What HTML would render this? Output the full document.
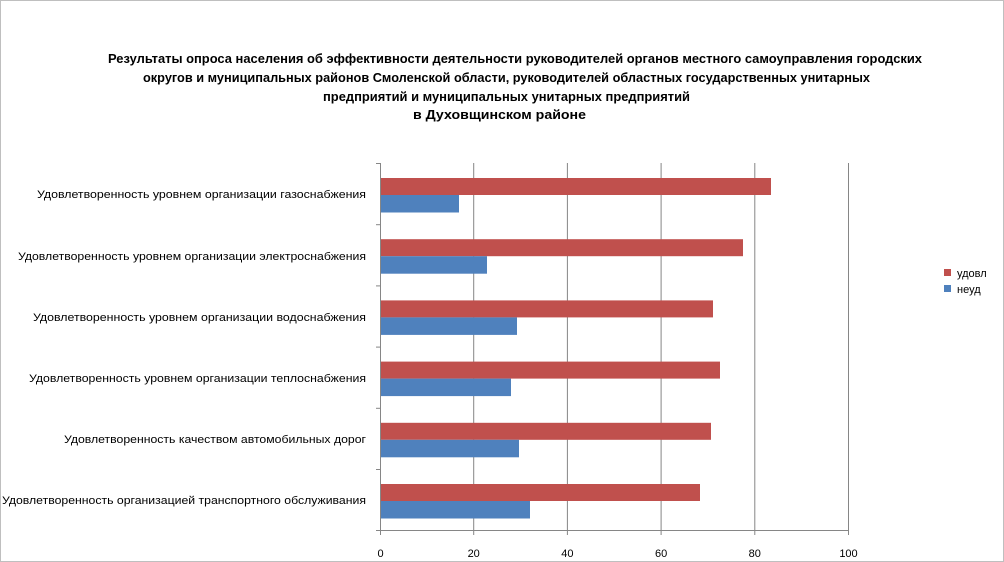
<!DOCTYPE html>
<html><head><meta charset="utf-8"><style>html,body{margin:0;padding:0;background:#fff}svg{display:block}</style></head>
<body>
<svg width="1004" height="562" xmlns="http://www.w3.org/2000/svg" font-family="Liberation Sans, sans-serif">
<rect x="0.5" y="0.5" width="1003" height="561" fill="#fff" stroke="#bfbfbf"/>
<g font-weight="bold" font-size="12.5" fill="#000">
<text x="108" y="63" textLength="814" lengthAdjust="spacingAndGlyphs">Результаты опроса населения об эффективности деятельности руководителей органов местного самоуправления городских</text>
<text x="143" y="82" textLength="727" lengthAdjust="spacingAndGlyphs">округов и муниципальных районов Смоленской области, руководителей областных государственных унитарных</text>
<text x="323" y="101" textLength="367" lengthAdjust="spacingAndGlyphs">предприятий и муниципальных унитарных предприятий</text>
<text x="413" y="119" textLength="173" lengthAdjust="spacingAndGlyphs">в Духовщинском районе</text>
</g>
<g stroke="#868686" stroke-width="1">
<line x1="473.7" y1="163" x2="473.7" y2="531"/>
<line x1="567.4" y1="163" x2="567.4" y2="531"/>
<line x1="661.1" y1="163" x2="661.1" y2="531"/>
<line x1="754.8" y1="163" x2="754.8" y2="531"/>
<line x1="848.5" y1="163" x2="848.5" y2="531"/>
</g>
<g fill="#c0504d">
<rect x="381" y="178" width="390" height="17"/>
<rect x="381" y="239.2" width="362" height="17"/>
<rect x="381" y="300.4" width="332" height="17"/>
<rect x="381" y="361.6" width="339" height="17"/>
<rect x="381" y="422.8" width="330" height="17"/>
<rect x="381" y="484" width="319" height="17"/>
</g>
<g fill="#4f81bd">
<rect x="381" y="195" width="78" height="17.5"/>
<rect x="381" y="256.2" width="106" height="17.5"/>
<rect x="381" y="317.4" width="136" height="17.5"/>
<rect x="381" y="378.6" width="130" height="17.5"/>
<rect x="381" y="439.8" width="138" height="17.5"/>
<rect x="381" y="501" width="149" height="17.5"/>
</g>
<g stroke="#868686" stroke-width="1">
<line x1="380.5" y1="163" x2="380.5" y2="531"/>
<line x1="380" y1="530.5" x2="849" y2="530.5"/>
<line x1="376" y1="163.5" x2="380" y2="163.5"/>
<line x1="376" y1="224.7" x2="380" y2="224.7"/>
<line x1="376" y1="285.9" x2="380" y2="285.9"/>
<line x1="376" y1="347.1" x2="380" y2="347.1"/>
<line x1="376" y1="408.3" x2="380" y2="408.3"/>
<line x1="376" y1="469.5" x2="380" y2="469.5"/>
<line x1="376" y1="530.5" x2="380" y2="530.5"/>
<line x1="380.5" y1="531" x2="380.5" y2="535"/>
<line x1="473.7" y1="531" x2="473.7" y2="535"/>
<line x1="567.4" y1="531" x2="567.4" y2="535"/>
<line x1="661.1" y1="531" x2="661.1" y2="535"/>
<line x1="754.8" y1="531" x2="754.8" y2="535"/>
<line x1="848.5" y1="531" x2="848.5" y2="535"/>
</g>
<g font-size="11" fill="#000" text-anchor="middle">
<text x="380.5" y="557">0</text>
<text x="473.7" y="557">20</text>
<text x="567.4" y="557">40</text>
<text x="661.1" y="557">60</text>
<text x="754.8" y="557">80</text>
<text x="848.5" y="557">100</text>
</g>
<g font-size="11" fill="#000">
<text x="37" y="198" textLength="329" lengthAdjust="spacingAndGlyphs">Удовлетворенность уровнем организации газоснабжения</text>
<text x="18" y="260" textLength="348" lengthAdjust="spacingAndGlyphs">Удовлетворенность уровнем организации электроснабжения</text>
<text x="33" y="321" textLength="333" lengthAdjust="spacingAndGlyphs">Удовлетворенность уровнем организации водоснабжения</text>
<text x="29" y="382" textLength="337" lengthAdjust="spacingAndGlyphs">Удовлетворенность уровнем организации теплоснабжения</text>
<text x="64" y="443" textLength="302" lengthAdjust="spacingAndGlyphs">Удовлетворенность качеством автомобильных дорог</text>
<text x="2" y="504" textLength="364" lengthAdjust="spacingAndGlyphs">Удовлетворенность организацией транспортного обслуживания</text>
</g>
<rect x="944" y="269" width="7" height="7" fill="#c0504d"/>
<rect x="944" y="285" width="7" height="7" fill="#4f81bd"/>
<g font-size="11" fill="#000">
<text x="957" y="277">удовл</text>
<text x="957" y="293">неуд</text>
</g>
</svg>
</body></html>
